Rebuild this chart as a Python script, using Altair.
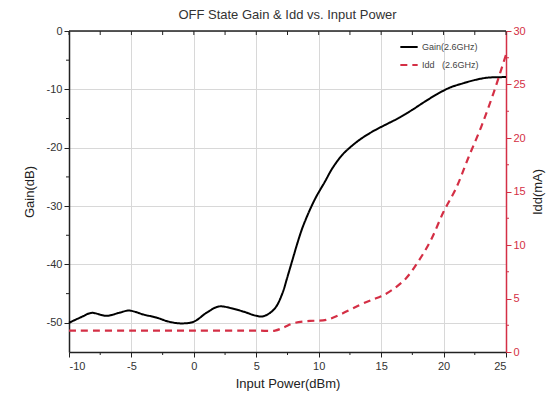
import altair as alt
import pandas as pd

# ---- data ----
gain_x = [-10, -9, -8.2, -7, -6, -5.2, -4, -3, -2, -1, 0, 1, 2, 3, 4, 5, 5.5,
          6.1, 6.6, 7.1, 7.5, 7.9, 8.3, 8.7, 9.3, 9.8, 10.5, 11.1, 11.9, 12.7,
          13.5, 14.5, 15.5, 16.5, 17.5, 18.5, 19.5, 20.5, 21.5, 22.5, 23.5, 25]
gain_db = [-50.0, -49.0, -48.3, -48.8, -48.3, -47.9, -48.6, -49.1, -49.8, -50.1,
           -49.8, -48.3, -47.2, -47.5, -48.1, -48.8, -48.9, -48.3, -47.2, -44.9,
           -42.1, -39.2, -36.3, -33.7, -30.6, -28.4, -25.8, -23.5, -21.2, -19.6,
           -18.3, -17.0, -15.9, -14.8, -13.5, -12.1, -10.8, -9.7, -9.0, -8.4,
           -8.0, -7.9]

idd_x = [-10, -5, 0, 5, 6.5, 7.2, 8, 9.3, 10.6, 11.9, 13.3, 14.3, 15, 16, 17,
         18, 19, 20, 21, 22, 23, 24, 25]
idd_ma = [2.0, 2.0, 2.0, 2.0, 2.0, 2.3, 2.7, 2.9, 3.0, 3.6, 4.4, 4.9, 5.2, 5.9,
          6.9, 8.5, 10.5, 13.1, 15.3, 18.2, 21.0, 24.2, 27.8]

series_names = ["Gain(2.6GHz)", "Idd\u00a0\u00a0\u00a0(2.6GHz)"]
x_ticks = [-10, -5, 0, 5, 10, 15, 20, 25]
x_minor = [-7.5, -2.5, 2.5, 7.5, 12.5, 17.5, 22.5]
gain_ticks = [0, -10, -20, -30, -40, -50]
gain_minor = [-5, -15, -25, -35, -45]
idd_ticks = [0, 5, 10, 15, 20, 25, 30]
idd_minor = [2.5, 7.5, 12.5, 17.5, 22.5, 27.5]

RED = "#d42f45"
FONT = "Liberation Sans"
LBL = "toString(datum.value)"

gain_df = pd.DataFrame({"x": gain_x, "v": gain_db, "s": series_names[0]})
idd_df = pd.DataFrame({"x": idd_x, "v": idd_ma, "s": series_names[1]})

xscale = alt.Scale(domain=[-10, 25], nice=False, zero=False)
gscale = alt.Scale(domain=[-55, 0], nice=False, zero=False)
iscale = alt.Scale(domain=[0, 30], nice=False, zero=False)

color = alt.Color("s:N", scale=alt.Scale(domain=series_names, range=["black", RED]),
                  legend=alt.Legend(title=None, orient="none", legendX=330, legendY=6,
                                    symbolType="stroke", symbolSize=300,
                                    symbolStrokeWidth=2, labelFontSize=9,
                                    labelFont=FONT, labelColor="#444",
                                    rowPadding=3, labelOffset=3))
dash = alt.StrokeDash("s:N", scale=alt.Scale(domain=series_names, range=[[1, 0], [7, 5]]),
                      legend=None)

xaxis = alt.Axis(values=x_ticks, title="Input Power(dBm)", grid=True, gridColor="#d8d8d8",
                 domainColor="#222", tickColor="#222", tickSize=5, labelFontSize=11,
                 titleFontSize=13, titleFontWeight="normal", labelColor="#333",
                 titleColor="#222", labelFont=FONT, titleFont=FONT, titlePadding=6,
                 labelPadding=3, labelExpr=LBL)
gaxis = alt.Axis(values=gain_ticks, title="Gain(dB)", grid=True, gridColor="#d8d8d8",
                 domainColor="#222", tickColor="#222", tickSize=5, labelFontSize=11,
                 titleFontSize=13, titleFontWeight="normal", labelColor="#333",
                 titleColor="#222", labelFont=FONT, titleFont=FONT, titlePadding=10,
                 labelExpr=LBL)
iaxis = alt.Axis(values=idd_ticks, orient="right", title="Idd(mA)", grid=False,
                 domainColor=RED, tickColor=RED, tickSize=5, labelFontSize=11,
                 titleFontSize=13, titleFontWeight="normal", labelColor=RED,
                 titleColor="#222", labelFont=FONT, titleFont=FONT,
                 titleAngle=270, titlePadding=19, labelExpr=LBL)

gain = alt.Chart(gain_df).mark_line(strokeWidth=2, interpolate="catmull-rom").encode(
    x=alt.X("x:Q", scale=xscale, axis=xaxis),
    y=alt.Y("v:Q", scale=gscale, axis=gaxis),
    color=color, strokeDash=dash,
)

gain_minor_ticks = alt.Chart(pd.DataFrame({"v": gain_minor})).mark_rule(
    color="#222", strokeWidth=1).encode(
    y=alt.Y("v:Q", scale=gscale, axis=gaxis), x=alt.value(-3), x2=alt.value(0))

top_ticks = alt.Chart(pd.DataFrame({"x": x_ticks + x_minor})).mark_rule(
    color="#222", strokeWidth=1).encode(
    x=alt.X("x:Q", scale=xscale, axis=xaxis), y=alt.value(0), y2=alt.value(4))
bottom_minor = alt.Chart(pd.DataFrame({"x": x_minor})).mark_rule(
    color="#222", strokeWidth=1).encode(
    x=alt.X("x:Q", scale=xscale, axis=xaxis), y=alt.value(321), y2=alt.value(324))
top_line = alt.Chart(pd.DataFrame({"x": [-10], "x2": [25]})).mark_rule(
    color="#222", strokeWidth=1.5).encode(
    x=alt.X("x:Q", scale=xscale, axis=xaxis), x2="x2:Q", y=alt.value(0))

left = alt.layer(gain, gain_minor_ticks)

idd = alt.Chart(idd_df).mark_line(strokeWidth=2.2, interpolate="catmull-rom").encode(
    x=alt.X("x:Q", scale=xscale, axis=xaxis),
    y=alt.Y("v:Q", scale=iscale, axis=iaxis),
    color=color, strokeDash=dash,
)
idd_minor_ticks = alt.Chart(pd.DataFrame({"v": idd_minor})).mark_rule(
    color=RED, strokeWidth=1).encode(
    y=alt.Y("v:Q", scale=iscale, axis=iaxis), x=alt.value(437), x2=alt.value(440))
right = alt.layer(idd, idd_minor_ticks)

chart = alt.layer(left, right, top_ticks, bottom_minor, top_line).resolve_scale(
    y="independent"
).properties(
    width=437, height=321,
    autosize=alt.AutoSizeParams(type="none"),
    padding={"left": 61, "top": 23, "right": 40, "bottom": 40},
    title=alt.Title("OFF State Gain & Idd vs. Input Power", fontSize=13,
                    fontWeight="normal", font=FONT, color="#333", offset=3),
).configure_view(stroke=None).configure_axis(domainWidth=1.5)

chart.save("out.html", embed_options={"renderer": "svg", "actions": False})
